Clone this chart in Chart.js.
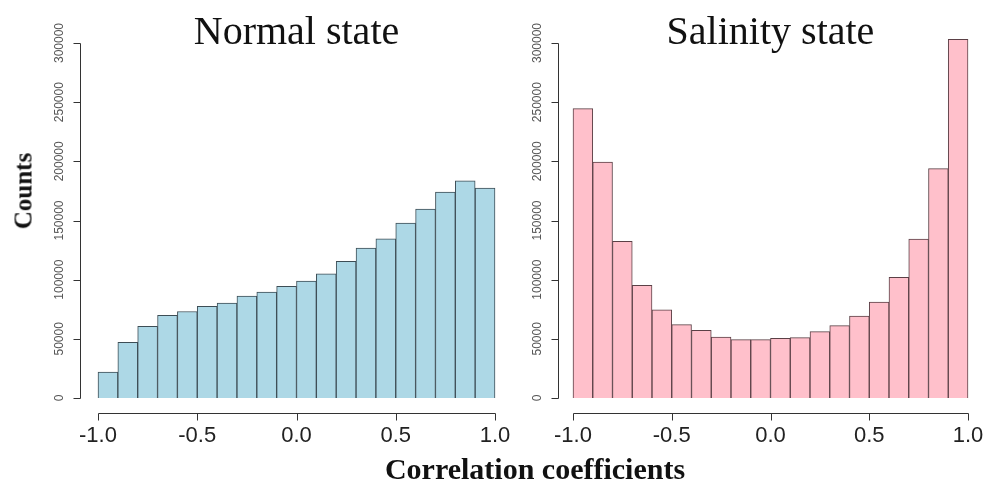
<!DOCTYPE html>
<html>
<head>
<meta charset="utf-8">
<script src="https://cdn.jsdelivr.net/npm/chart.js@4/dist/chart.umd.min.js"></script>
<style>
body { margin: 0; background: #fff; width: 985px; height: 486px; position: relative; overflow: hidden; }
canvas { position: absolute; top: 0; }
#counts { position: absolute; left: 23px; top: 191px; transform: translate(-50%, -50%) rotate(-90deg);
  font: bold 25px "Liberation Serif"; line-height: 1; white-space: nowrap; color: #111; }
#xlabel { position: absolute; left: 535px; top: 454px; transform: translateX(-50%);
  font: bold 30px "Liberation Serif"; line-height: 1; white-space: nowrap; color: #111; }
</style>
</head>
<body>
<canvas id="normal" width="520" height="486" style="left:0"></canvas>
<canvas id="salinity" width="465" height="486" style="left:520px"></canvas>
<div id="counts">Counts</div>
<div id="xlabel">Correlation coefficients</div>
<script>
// histogram bins (left edge of each bin, width 0.1)
const binStart = [-1.0, -0.9, -0.8, -0.7, -0.6, -0.5, -0.4, -0.3, -0.2, -0.1,
                  0.0, 0.1, 0.2, 0.3, 0.4, 0.5, 0.6, 0.7, 0.8, 0.9];
const binWidth = 0.1;

const normalCounts = [22000, 47000, 60500, 69800, 73100, 77400, 80200, 86100, 89500, 94300,
                      98800, 105000, 115400, 126700, 134500, 147800, 159600, 174000, 183500, 177400];
const salinityCounts = [244500, 199400, 132400, 95200, 74600, 62000, 57200, 51500, 49300, 49300,
                        50400, 51000, 56100, 61100, 69300, 81100, 102000, 134400, 193800, 303100];

const xTicks = [-1.0, -0.5, 0.0, 0.5, 1.0];
const xTickLabels = ["-1.0", "-0.5", "0.0", "0.5", "1.0"];
const yTicks = [0, 50000, 100000, 150000, 200000, 250000, 300000];

// R-style detached axes + panel title
const rAxes = {
    id: "rAxes",
    afterDraw(chart, args, opts) {
        const ctx = chart.ctx;
        const area = chart.chartArea;
        const x = chart.scales.x;
        const y = chart.scales.y;
        ctx.save();
        ctx.strokeStyle = "#333";
        ctx.lineWidth = 1;

        // y axis
        const ax = Math.round(area.left - opts.yGap) + 0.5;
        ctx.beginPath();
        ctx.moveTo(ax, Math.round(y.getPixelForValue(yTicks[0])) + 0.5);
        ctx.lineTo(ax, Math.round(y.getPixelForValue(yTicks[yTicks.length - 1])) + 0.5);
        yTicks.forEach(v => {
            const py = Math.round(y.getPixelForValue(v)) + 0.5;
            ctx.moveTo(ax, py);
            ctx.lineTo(ax - 7, py);
        });
        ctx.stroke();
        ctx.fillStyle = "#555";
        ctx.font = '12px "Liberation Sans"';
        ctx.textAlign = "center";
        ctx.textBaseline = "middle";
        yTicks.forEach(v => {
            ctx.save();
            ctx.translate(ax - 21, y.getPixelForValue(v));
            ctx.rotate(-Math.PI / 2);
            ctx.fillText(String(v), 0, 0);
            ctx.restore();
        });

        // x axis
        const ay = Math.round(area.bottom + 15) + 0.5;
        ctx.beginPath();
        ctx.moveTo(Math.round(x.getPixelForValue(xTicks[0])) + 0.5, ay);
        ctx.lineTo(Math.round(x.getPixelForValue(xTicks[xTicks.length - 1])) + 0.5, ay);
        xTicks.forEach(v => {
            const px = Math.round(x.getPixelForValue(v)) + 0.5;
            ctx.moveTo(px, ay);
            ctx.lineTo(px, ay + 7);
        });
        ctx.stroke();
        ctx.fillStyle = "#222";
        ctx.font = '22px "Liberation Sans"';
        xTicks.forEach((v, i) => {
            ctx.fillText(xTickLabels[i], x.getPixelForValue(v), ay + 22);
        });

        // panel title
        ctx.fillStyle = "#111";
        ctx.font = '40px "Liberation Serif"';
        ctx.textBaseline = "alphabetic";
        ctx.fillText(opts.title, (area.left + area.right) / 2, area.top + 1);
        ctx.restore();
    }
};

function makeHist(canvas, counts, title, fill, edge, padding, yGap) {
    new Chart(document.getElementById(canvas), {
        type: "bar",
        data: {
            datasets: [{
                data: binStart.map((b, i) => ({ x: b + binWidth / 2, y: counts[i] })),
                backgroundColor: fill,
                borderColor: edge,
                borderWidth: 1,
                barPercentage: 1,
                categoryPercentage: 1,
                clip: false
            }]
        },
        options: {
            responsive: false,
            animation: false,
            devicePixelRatio: 1,
            layout: { padding: padding },
            plugins: {
                legend: { display: false },
                tooltip: { enabled: false },
                rAxes: { title: title, yGap: yGap }
            },
            scales: {
                x: { type: "linear", min: -1, max: 1, offset: false, display: false },
                y: { min: 0, max: 300000, display: false }
            }
        },
        plugins: [rAxes]
    });
}

makeHist("normal", normalCounts, "Normal state", "#ADD8E6", "#3d4d55",
         { left: 98, right: 25, top: 43, bottom: 88 }, 18);
makeHist("salinity", salinityCounts, "Salinity state", "#FFC0CB", "#5b4046",
         { left: 53, right: 17, top: 43, bottom: 88 }, 15);
</script>
</body>
</html>
